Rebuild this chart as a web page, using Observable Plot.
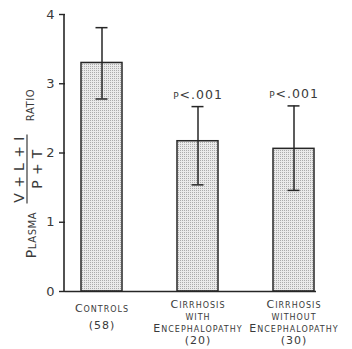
<!DOCTYPE html>
<html>
<head>
<meta charset="utf-8">
<script src="https://cdn.jsdelivr.net/npm/d3@7"></script>
<script src="https://cdn.jsdelivr.net/npm/@observablehq/plot@0.6"></script>
<style>
  body { margin: 0; background: #fff; }
  #chart svg { background: #fff; }
  #chart svg text { font-family: "DejaVu Sans", "Liberation Sans", sans-serif; }
  g[aria-description="x-labels"] text { letter-spacing: 1px; }
  g[aria-description="p-labels"] text { letter-spacing: 1px; }
  g[aria-description="y-label-small"] text { letter-spacing: 0.6px; }
  g[aria-description="y-fraction"] text { letter-spacing: 0.4px; }
</style>
</head>
<body>
<div id="chart"></div>
<script>
// ---- data ----
const categories = ["Controls", "Cirrhosis with Encephalopathy", "Cirrhosis without Encephalopathy"];
const means = [3.30, 2.17, 2.06];
const upper = [3.81, 2.67, 2.68];
const lower = [2.78, 1.54, 1.46];
const counts = [58, 20, 30];
const labelLines = [["Controls"], ["Cirrhosis", "with", "Encephalopathy"], ["Cirrhosis", "without", "Encephalopathy"]];
const pLabels = ["", "p<.001", "p<.001"];
const yTicks = [0, 1, 2, 3, 4];
const yLabelParts = { lead: "Plasma", numerator: "V + L + I", denominator: "P + T", tail: "ratio" };

const data = categories.map((c, i) => ({
  group: c, mean: means[i], hi: upper[i], lo: lower[i], p: pLabels[i],
  label: labelLines[i].concat([`(${counts[i]})`]).join("\n")
}));

const ink = "#262626";
const textInk = "#3a3a3a";

// stipple pattern for bar fill
const defsMark = () => {
  const defs = d3.create("svg:defs");
  const pat = defs.append("pattern").attr("id", "stipple")
    .attr("width", 2).attr("height", 2).attr("patternUnits", "userSpaceOnUse");
  pat.append("rect").attr("width", 2).attr("height", 2).attr("fill", "#eaeaea");
  pat.append("rect").attr("width", 1).attr("height", 1).attr("fill", "#ababab");
  return defs.node();
};

// vertical y-axis line drawn through the y scale
const yAxisLine = (index, scales, values, dims) =>
  d3.create("svg:line")
    .attr("x1", dims.marginLeft - 1).attr("x2", dims.marginLeft - 1)
    .attr("y1", scales.y(yTicks[0])).attr("y2", scales.y(yTicks[yTicks.length - 1]))
    .attr("stroke", ink).attr("stroke-width", 1.6).node();

// fraction bar of the y-axis label (between numerator and denominator)
const fractionBar = (index, scales, values, dims) => {
  const midY = (dims.marginTop + dims.height - dims.marginBottom) / 2;
  const x = dims.marginLeft - 38;
  return d3.create("svg:line")
    .attr("x1", x).attr("x2", x)
    .attr("y1", midY - 18).attr("y2", midY + 51)
    .attr("stroke", textInk).attr("stroke-width", 1.2).node();
};

const chart = Plot.plot({
  width: 352,
  height: 349,
  marginLeft: 65,
  marginTop: 14,
  marginBottom: 58,
  marginRight: 36,
  x: { domain: categories, range: [65, 329], paddingInner: 0.577, paddingOuter: 0.15, axis: null },
  y: { domain: [0, 4], axis: null },
  marks: [
    defsMark,
    Plot.barY(data, { x: "group", y: "mean", fill: "url(#stipple)", stroke: ink, strokeWidth: 1.5 }),
    Plot.ruleX(data, { x: "group", y1: "lo", y2: "hi", stroke: ink, strokeWidth: 1.5 }),
    Plot.tickY(data, { x: "group", y: "hi", stroke: ink, strokeWidth: 1.5, insetLeft: 14.5, insetRight: 14.5 }),
    Plot.tickY(data, { x: "group", y: "lo", stroke: ink, strokeWidth: 1.5, insetLeft: 14.5, insetRight: 14.5 }),
    Plot.ruleY([0], { stroke: ink, strokeWidth: 1.6 }),
    yAxisLine,
    Plot.axisY({ ticks: yTicks, tickFormat: d3.format("d"), tickSize: 6, tickPadding: 5, fontSize: 13, label: null, stroke: ink, strokeWidth: 1.4, fill: textInk }),
    // p-values
    Plot.text(data, { filter: d => d.p, x: "group", y: "hi", text: "p", dy: -12, fontSize: 12.5, fontVariant: "small-caps", fill: textInk, ariaDescription: "p-labels" }),
    // category labels
    Plot.text(data, { filter: (d, i) => i === 0, x: "group", text: "label", frameAnchor: "bottom", lineAnchor: "top", dy: 8, fontSize: 11, lineHeight: 1.55, fontVariant: "small-caps", fill: textInk, ariaDescription: "x-labels" }),
    Plot.text(data, { filter: (d, i) => i > 0, x: "group", text: "label", frameAnchor: "bottom", lineAnchor: "top", dy: 8, fontSize: 11, lineHeight: 1.1, fontVariant: "small-caps", fill: textInk, ariaDescription: "x-labels" }),
    // y-axis label: Plasma (V+L+I)/(P+T) ratio
    Plot.text([yLabelParts.tail], { text: d => d, frameAnchor: "left", rotate: -90, dx: -36, dy: -48, textAnchor: "middle", lineAnchor: "middle", fontSize: 14, fontVariant: "small-caps", fill: textInk, ariaDescription: "y-label-small" }),
    Plot.text([yLabelParts.lead], { text: d => d, frameAnchor: "left", rotate: -90, dx: -34, dy: 82, textAnchor: "middle", lineAnchor: "middle", fontSize: 14, fontVariant: "small-caps", fill: textInk, ariaDescription: "y-label-small" }),
    Plot.text([yLabelParts.numerator], { text: d => d, frameAnchor: "left", rotate: -90, dx: -46, dy: 16.5, textAnchor: "middle", lineAnchor: "middle", fontSize: 14, fill: textInk, ariaDescription: "y-fraction" }),
    fractionBar,
    Plot.text([yLabelParts.denominator], { text: d => d, frameAnchor: "left", rotate: -90, dx: -28, dy: 16, textAnchor: "middle", lineAnchor: "middle", fontSize: 14, fill: textInk, ariaDescription: "y-fraction" })
  ]
});

document.getElementById("chart").appendChild(chart);
</script>
</body>
</html>
